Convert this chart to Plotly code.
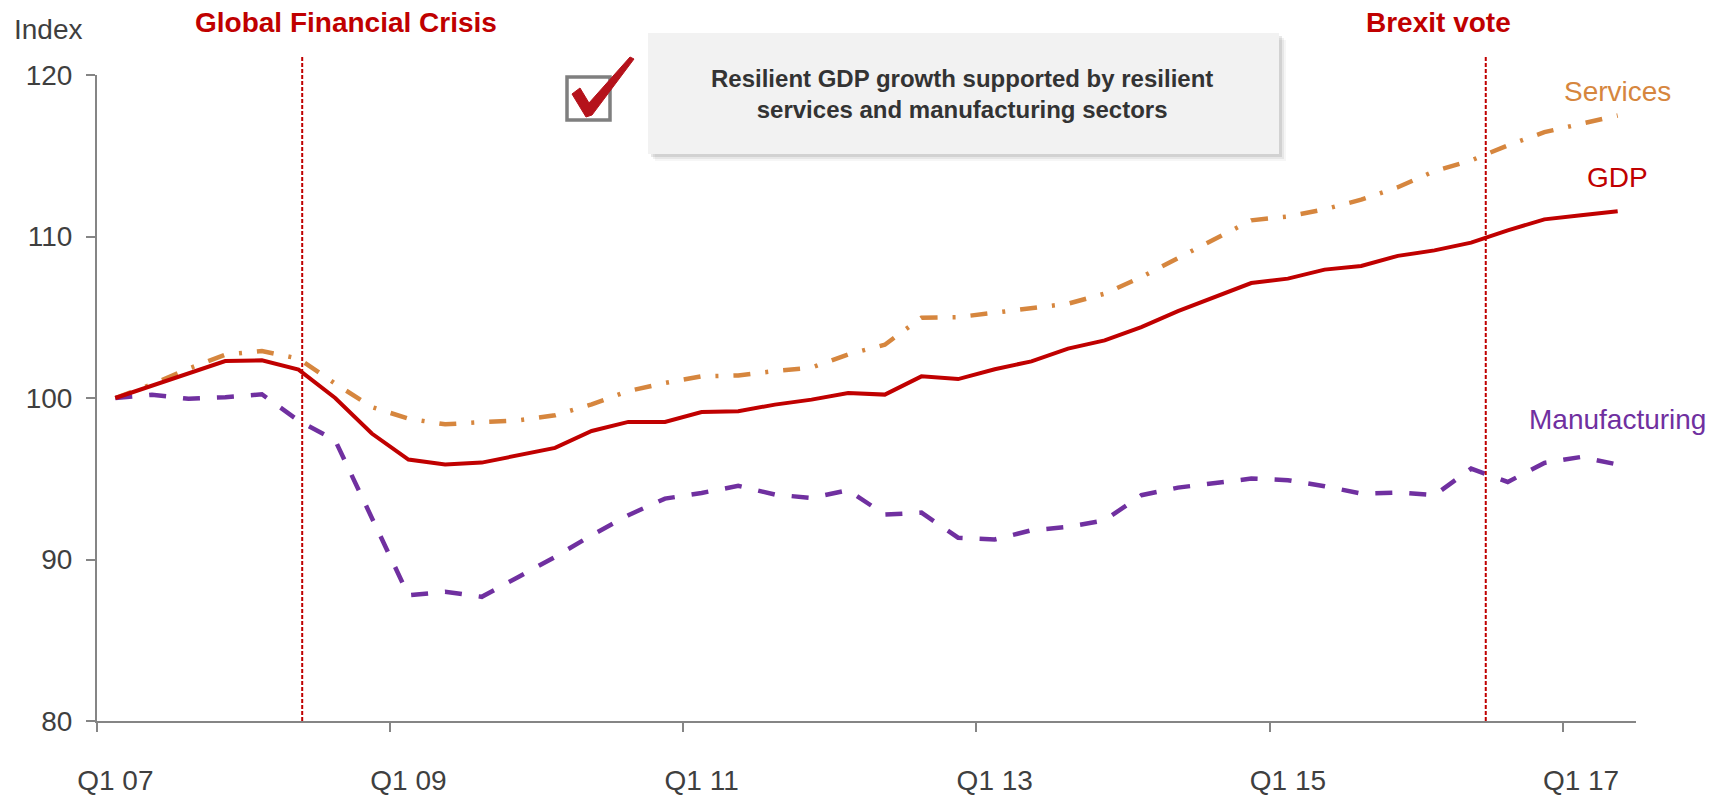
import plotly.graph_objects as go

# ---- data -------------------------------------------------------------
quarters = [
    "Q1 07", "Q2 07", "Q3 07", "Q4 07", "Q1 08", "Q2 08", "Q3 08", "Q4 08",
    "Q1 09", "Q2 09", "Q3 09", "Q4 09", "Q1 10", "Q2 10", "Q3 10", "Q4 10",
    "Q1 11", "Q2 11", "Q3 11", "Q4 11", "Q1 12", "Q2 12", "Q3 12", "Q4 12",
    "Q1 13", "Q2 13", "Q3 13", "Q4 13", "Q1 14", "Q2 14", "Q3 14", "Q4 14",
    "Q1 15", "Q2 15", "Q3 15", "Q4 15", "Q1 16", "Q2 16", "Q3 16", "Q4 16",
    "Q1 17", "Q2 17",
]

gdp = [
    100.0, 100.77, 101.53, 102.29, 102.33, 101.76, 100.0, 97.8,
    96.19, 95.88, 96.0, 96.45, 96.91, 97.96, 98.52, 98.52,
    99.13, 99.18, 99.59, 99.9, 100.31, 100.21, 101.34, 101.17,
    101.78, 102.27, 103.06, 103.57, 104.39, 105.38, 106.25, 107.12,
    107.39, 107.95, 108.17, 108.8, 109.14, 109.62, 110.38, 111.06,
    111.31, 111.57,
]

services = [
    100.0, 100.85, 101.82, 102.68, 102.91, 102.44, 100.89, 99.44,
    98.72, 98.37, 98.51, 98.62, 98.93, 99.61, 100.43, 100.93,
    101.34, 101.40, 101.67, 101.88, 102.70, 103.30, 104.97, 105.01,
    105.28, 105.53, 105.84, 106.46, 107.49, 108.66, 109.80, 111.00,
    111.24, 111.68, 112.28, 113.05, 114.05, 114.71, 115.64, 116.46,
    116.98, 117.49,
]

manufacturing = [
    100.0, 100.2, 99.95, 100.05, 100.23, 98.6, 97.38, 92.64,
    87.78, 88.0, 87.69, 88.92, 90.16, 91.5, 92.74, 93.77,
    94.12, 94.56, 94.02, 93.81, 94.29, 92.78, 92.9, 91.35,
    91.24, 91.81, 92.02, 92.43, 93.98, 94.45, 94.70, 95.01,
    94.91, 94.54, 94.08, 94.15, 93.98, 95.63, 94.80, 95.98,
    96.35, 95.88,
]

tick_labels = ["Q1 07", "Q1 09", "Q1 11", "Q1 13", "Q1 15", "Q1 17"]
y_ticks = [80, 90, 100, 110, 120]

event_names = ["Global Financial Crisis", "Brexit vote"]
event_quarter_pos = [5.1, 37.4]      # fractional quarter index of each event

series_names = ["Services", "GDP", "Manufacturing"]
callout_lines = ["Resilient GDP growth supported by resilient",
                 "services and manufacturing sectors"]

# ---- styling ----------------------------------------------------------
RED = "#c00000"
ORANGE = "#d6863e"
PURPLE = "#7030a0"
AXIS = "#858585"
TEXT = "#3f3f3f"
FONT = "Liberation Sans, Arial, sans-serif"

W, H = 1730, 796
ML, MR, MT, MB = 97, 94, 75, 75
PW = W - ML - MR
PH = H - MT - MB


def px(x):
    """page pixel x -> paper x"""
    return (x - ML) / PW


def py(y):
    """page pixel y -> paper y"""
    return (H - MB - y) / PH


idx = list(range(len(quarters)))

fig = go.Figure()

fig.add_trace(go.Scatter(
    x=idx, y=services, mode="lines", name=series_names[0],
    text=quarters, hovertemplate="%{text}: %{y:.1f}<extra>Services</extra>",
    line=dict(color=ORANGE, width=4.5, dash="17px,15px,3px,15px"),
))
fig.add_trace(go.Scatter(
    x=idx, y=manufacturing, mode="lines", name=series_names[2],
    text=quarters, hovertemplate="%{text}: %{y:.1f}<extra>Manufacturing</extra>",
    line=dict(color=PURPLE, width=4.5, dash="17px,17px"),
))
fig.add_trace(go.Scatter(
    x=idx, y=gdp, mode="lines", name=series_names[1],
    text=quarters, hovertemplate="%{text}: %{y:.1f}<extra>GDP</extra>",
    line=dict(color=RED, width=4),
))

tick_idx = [quarters.index(q) for q in tick_labels]
boundaries = [i - 0.5 for i in tick_idx]

fig.update_layout(
    width=W, height=H,
    margin=dict(l=ML, r=MR, t=MT, b=MB, pad=0, autoexpand=False),
    paper_bgcolor="white", plot_bgcolor="white",
    showlegend=False,
    font=dict(family=FONT, color=TEXT),
    xaxis=dict(
        range=[-0.5, len(quarters) - 0.5], automargin=False,
        tickmode="array", tickvals=tick_idx, ticktext=tick_labels,
        ticks="", showgrid=False, zeroline=False,
        showline=True, linecolor=AXIS, linewidth=2,
        tickfont=dict(size=28, color=TEXT, family=FONT),
        ticklabelstandoff=33,
        minor=dict(tickmode="array", tickvals=boundaries, ticks="outside",
                   ticklen=9, tickwidth=1.5, tickcolor=AXIS, showgrid=False),
    ),
    yaxis=dict(
        range=[80, 120], automargin=False,
        tickmode="array", tickvals=y_ticks,
        ticks="outside", ticklen=9, tickwidth=1.5, tickcolor=AXIS,
        showgrid=False, zeroline=False,
        showline=True, linecolor=AXIS, linewidth=2,
        tickfont=dict(size=28, color=TEXT, family=FONT),
        ticklabelstandoff=8,
    ),
)

shapes = []

# callout box with a soft drop shadow
bx0, by0, bx1, by1 = 648, 33, 1279, 154
for off, alpha in [(7, 0.035), (5, 0.06), (3, 0.09)]:
    shapes.append(dict(type="rect", xref="paper", yref="paper", layer="above",
                       x0=px(bx0 + off), x1=px(bx1 + off),
                       y0=py(by0 + off), y1=py(by1 + off),
                       line=dict(width=0), fillcolor=f"rgba(0,0,0,{alpha})"))
shapes.append(dict(type="rect", xref="paper", yref="paper", layer="above",
                   x0=px(bx0), x1=px(bx1), y0=py(by0), y1=py(by1),
                   line=dict(width=0), fillcolor="#f2f2f2"))

# tick box icon
shapes.append(dict(type="rect", xref="paper", yref="paper", layer="above",
                   x0=px(567), x1=px(610), y0=py(77), y1=py(120),
                   line=dict(color="#7f7f7f", width=3.5), fillcolor="white"))
check_pts = [(572, 94), (580, 88), (589, 103), (630, 57), (634, 59),
             (592, 115), (586, 117)]
path = "M " + " L ".join(f"{px(x):.5f},{py(y):.5f}" for x, y in check_pts) + " Z"
shapes.append(dict(type="path", xref="paper", yref="paper", layer="above",
                   path=path, fillcolor="#b5121b", line=dict(color="#b5121b", width=1)))

# event markers
for pos in event_quarter_pos:
    shapes.append(dict(type="line", xref="x", yref="paper", layer="above",
                       x0=pos, x1=pos, y0=0, y1=py(55),
                       line=dict(color=RED, width=2, dash="4px,2px")))

fig.update_layout(shapes=shapes)

annotations = [
    dict(text="Index", xref="paper", yref="paper", x=px(12), y=py(29),
         xanchor="left", yanchor="middle", showarrow=False,
         font=dict(size=28, color=TEXT, family=FONT)),
    dict(text=f"<b>{event_names[0]}</b>", xref="x", yref="paper",
         x=6.3, y=py(23), xanchor="center", yanchor="middle", showarrow=False,
         font=dict(size=28, color=RED, family=FONT)),
    dict(text=f"<b>{event_names[1]}</b>", xref="x", yref="paper",
         x=36.1, y=py(23), xanchor="center", yanchor="middle", showarrow=False,
         font=dict(size=28, color=RED, family=FONT)),
    dict(text="<b>" + "<br>".join(callout_lines) + "</b>", xref="paper", yref="paper",
         x=px(962), y=py(94), xanchor="center", yanchor="middle", showarrow=False,
         align="center", font=dict(size=24, color="#333333", family=FONT)),
    dict(text=series_names[0], xref="x", yref="y", x=41, y=119.0,
         xanchor="center", yanchor="middle", showarrow=False,
         font=dict(size=28, color=ORANGE, family=FONT)),
    dict(text=series_names[1], xref="x", yref="y", x=41, y=113.67,
         xanchor="center", yanchor="middle", showarrow=False,
         font=dict(size=28, color=RED, family=FONT)),
    dict(text=series_names[2], xref="x", yref="y", x=41, y=98.64,
         xanchor="center", yanchor="middle", showarrow=False,
         font=dict(size=28, color=PURPLE, family=FONT)),
]
fig.update_layout(annotations=annotations)

fig.write_html("out.html")
